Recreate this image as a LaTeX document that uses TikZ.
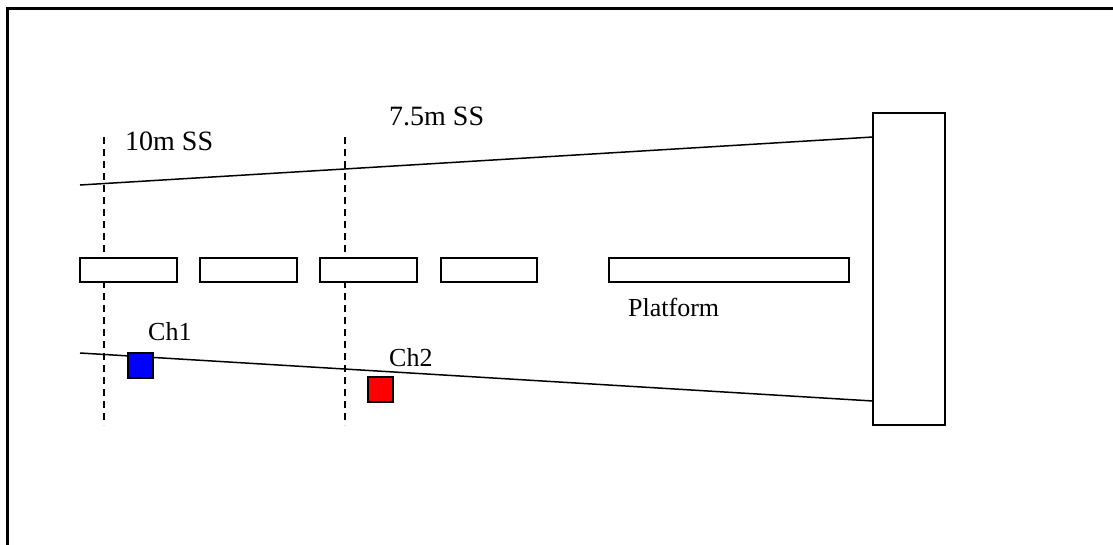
\documentclass[tikz,border=0pt]{standalone}
\usepackage{fontspec}
\setmainfont{Liberation Serif}
\usepackage{tikz}
\tikzstyle{slab} = [draw=black, fill=white, line width=1.5pt,
    rectangle, inner sep=0pt, minimum height=24pt]
\tikzstyle{endwall} = [draw=black, fill=white, line width=1.5pt,
    rectangle, inner sep=0pt, minimum width=72pt, minimum height=312pt]
\tikzstyle{chan} = [draw=black, line width=1.2pt, rectangle, inner sep=0pt,
    minimum size=25pt]
\tikzstyle{edge} = [line width=1.5pt]
\tikzstyle{ssline} = [line width=1.5pt, dashed, dash pattern=on 7pt off 5pt]
\tikzstyle{biglabel} = [anchor=base west, inner sep=0pt, font=\fontsize{28}{32}\selectfont]
\tikzstyle{smalllabel} = [anchor=base west, inner sep=0pt, font=\fontsize{26}{30}\selectfont]

\begin{document}
\begin{tikzpicture}[x=1pt, y=-1pt]
                \useasboundingbox (0,0) rectangle (1113,544);
                % outer frame, cut off at right and bottom
                \draw[line width=3pt] (7,560) -- (7,8) -- (1130,8);

                % wall at the far end
                \node [endwall] (wall) at (909,269) {};
                \coordinate (topstart) at (80,185);
                \coordinate (topend) at (873,137);
                \coordinate (botstart) at (80,353);
                \coordinate (botend) at (873,401);
                \draw[edge] (topstart) -- (topend);
                \draw[edge] (botstart) -- (botend);

                % sight-distance markers
                \coordinate (ssa top) at (104,137);
                \coordinate (ssa bot) at (104,425);
                \coordinate (ssb top) at (345,137);
                \coordinate (ssb bot) at (345,425);
                \draw[ssline] (ssa top) -- (ssa bot);
                \draw[ssline] (ssb top) -- (ssb bot);

                % slabs and platform
                \node [slab, minimum width=97pt] (slab1) at (128.5,270) {};
                \node [slab, minimum width=97pt] (slab2) at (248.5,270) {};
                \node [slab, minimum width=97pt] (slab3) at (368.5,270) {};
                \node [slab, minimum width=96pt] (slab4) at (489,270) {};
                \node [slab, minimum width=240pt] (platform) at (729,270) {};

                % channels
                \node [chan, fill=blue] (ch1) at (140.5,365.5) {};
                \node [chan, fill=red] (ch2) at (380.5,389.5) {};

                \node [biglabel] (ssa label) at (125,150) {10m SS};
                \node [biglabel] (ssb label) at (389,125) {7.5m SS};
                \node [smalllabel] (ch1 label) at (148,340) {Ch1};
                \node [smalllabel] (ch2 label) at (389,366) {Ch2};
                \node [smalllabel] (platform label) at (628,316) {Platform};
            \end{tikzpicture}
\end{document}
